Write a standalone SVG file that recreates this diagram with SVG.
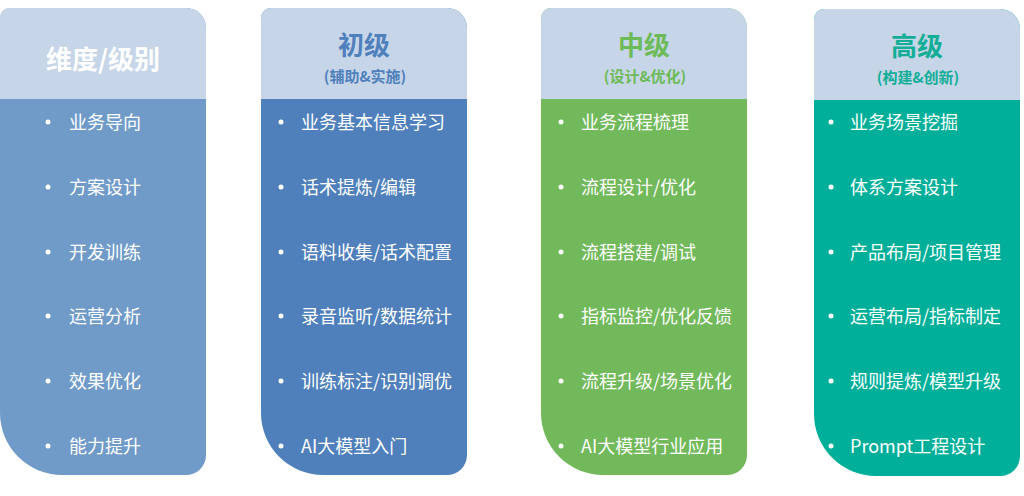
<svg xmlns="http://www.w3.org/2000/svg" width="1024" height="496" viewBox="0 0 1024 496">
<style>
.t{font-family:"Noto Sans CJK SC","Microsoft YaHei",sans-serif;}
.title{font-size:26px;font-weight:bold;text-anchor:middle;}
.sub{font-size:15px;font-weight:bold;text-anchor:middle;}
.item{font-size:18px;fill:#ffffff;}
.dot{fill:#ffffff;}
.head{fill:#C6D6E8;}
</style>
<defs>
<path id="card" d="M10,0 H186 A20 20 0 0 1 206,20 V447 A20 20 0 0 1 186,467 H62 A62 62 0 0 1 0,405 V10 A10 10 0 0 1 10,0 Z"/>
<path id="hdr" d="M10,0 H186 A20 20 0 0 1 206,20 V91 H0 V10 A10 10 0 0 1 10,0 Z"/>
</defs>
<rect width="1024" height="496" fill="#ffffff"/>
<g id="connectors"></g>
<g id="node-dimension" class="t">
<use href="#card" transform="translate(0,8)" fill="#709BC9"/>
<use href="#hdr" transform="translate(0,8)" class="head"/>
<text x="103" y="69" class="title" fill="#ffffff">维度/级别</text>
<g class="dot"><circle cx="48" cy="122" r="2.5"/><circle cx="48" cy="187" r="2.5"/><circle cx="48" cy="252" r="2.5"/><circle cx="48" cy="316" r="2.5"/><circle cx="48" cy="381" r="2.5"/><circle cx="48" cy="446" r="2.5"/></g>
<text x="69" y="128.5" class="item">业务导向</text>
<text x="69" y="193.5" class="item">方案设计</text>
<text x="69" y="258.5" class="item">开发训练</text>
<text x="69" y="322.5" class="item">运营分析</text>
<text x="69" y="387.5" class="item">效果优化</text>
<text x="69" y="452.5" class="item">能力提升</text>
</g>
<g id="node-junior" class="t">
<use href="#card" transform="translate(261,8)" fill="#4F80BC"/>
<use href="#hdr" transform="translate(261,8)" class="head"/>
<text x="364" y="55" class="title" fill="#4F80BC">初级</text>
<text x="365" y="82" class="sub" fill="#4F80BC">(辅助&amp;实施)</text>
<g class="dot"><circle cx="281" cy="122" r="2.5"/><circle cx="281" cy="187" r="2.5"/><circle cx="281" cy="252" r="2.5"/><circle cx="281" cy="316" r="2.5"/><circle cx="281" cy="381" r="2.5"/><circle cx="281" cy="446" r="2.5"/></g>
<text x="301" y="128.5" class="item">业务基本信息学习</text>
<text x="301" y="193.5" class="item">话术提炼/编辑</text>
<text x="301" y="258.5" class="item">语料收集/话术配置</text>
<text x="301" y="322.5" class="item">录音监听/数据统计</text>
<text x="301" y="387.5" class="item">训练标注/识别调优</text>
<text x="301" y="452.5" class="item">AI大模型入门</text>
</g>
<g id="node-intermediate" class="t">
<use href="#card" transform="translate(541,8)" fill="#71B95B"/>
<use href="#hdr" transform="translate(541,8)" class="head"/>
<text x="644" y="55" class="title" fill="#6DBA58">中级</text>
<text x="645" y="82" class="sub" fill="#6DBA58">(设计&amp;优化)</text>
<g class="dot"><circle cx="561" cy="122" r="2.5"/><circle cx="561" cy="187" r="2.5"/><circle cx="561" cy="252" r="2.5"/><circle cx="561" cy="316" r="2.5"/><circle cx="561" cy="381" r="2.5"/><circle cx="561" cy="446" r="2.5"/></g>
<text x="581" y="128.5" class="item">业务流程梳理</text>
<text x="581" y="193.5" class="item">流程设计/优化</text>
<text x="581" y="258.5" class="item">流程搭建/调试</text>
<text x="581" y="322.5" class="item">指标监控/优化反馈</text>
<text x="581" y="387.5" class="item">流程升级/场景优化</text>
<text x="581" y="452.5" class="item">AI大模型行业应用</text>
</g>
<g id="node-senior" class="t">
<use href="#card" transform="translate(814,9)" fill="#00AF9A"/>
<use href="#hdr" transform="translate(814,9)" class="head"/>
<text x="917" y="56" class="title" fill="#12AE97">高级</text>
<text x="918" y="83" class="sub" fill="#12AE97">(构建&amp;创新)</text>
<g class="dot"><circle cx="831" cy="122" r="2.5"/><circle cx="831" cy="187" r="2.5"/><circle cx="831" cy="252" r="2.5"/><circle cx="831" cy="316" r="2.5"/><circle cx="831" cy="381" r="2.5"/><circle cx="831" cy="446" r="2.5"/></g>
<text x="850" y="128.5" class="item">业务场景挖掘</text>
<text x="850" y="193.5" class="item">体系方案设计</text>
<text x="850" y="258.5" class="item">产品布局/项目管理</text>
<text x="850" y="322.5" class="item">运营布局/指标制定</text>
<text x="850" y="387.5" class="item">规则提炼/模型升级</text>
<text x="850" y="452.5" class="item">Prompt工程设计</text>
</g>
</svg>
